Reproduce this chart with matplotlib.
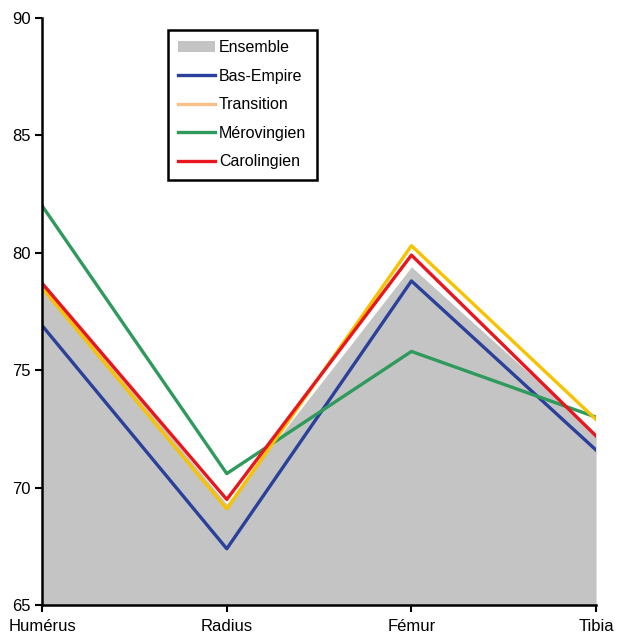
import matplotlib
matplotlib.use("Agg")
import matplotlib.pyplot as plt
from matplotlib.lines import Line2D
from matplotlib.patches import Patch

plt.rcParams['font.family'] = ['Liberation Sans', 'DejaVu Sans']

bones = ["Humérus", "Radius", "Fémur", "Tibia"]
ensemble = [78.8, 69.3, 79.4, 72.3]
bas_empire = [76.9, 67.4, 78.8, 71.6]
transition = [78.5, 69.1, 80.3, 72.9]
merovingien = [82.0, 70.6, 75.8, 73.0]
carolingien = [78.7, 69.5, 79.9, 72.2]
yticks = [65, 70, 75, 80, 85, 90]

fig = plt.figure(figsize=(6.19, 6.37), dpi=100)
ax = fig.add_axes([0.068, 0.050, 0.895, 0.922])

x = list(range(len(bones)))
ax.fill_between(x, 65, ensemble, color="#c4c4c4", lw=0, zorder=1)
lw = 2.4
ax.plot(x, bas_empire, color="#2b409b", lw=lw, zorder=3)
ax.plot(x, transition, color="#f7c200", lw=lw, zorder=4)
ax.plot(x, merovingien, color="#2e9a5c", lw=lw, zorder=3)
ax.plot(x, carolingien, color="#e8161e", lw=lw, zorder=5)

ax.set_xlim(0, 3)
ax.set_ylim(65, 90)
ax.set_yticks(yticks)
ax.set_xticks(x)
ax.set_xticklabels(bones)
ax.tick_params(axis='both', labelsize=12, direction='out', length=5, width=1.5, color='black')
ax.tick_params(axis='x', pad=5)
ax.tick_params(axis='y', pad=3)
for s in ['top', 'right']:
    ax.spines[s].set_visible(False)
for s in ['left', 'bottom']:
    ax.spines[s].set_linewidth(1.8)
    ax.spines[s].set_zorder(6)

handles = [
    Patch(facecolor="#c4c4c4", edgecolor="none", label="Ensemble"),
    Line2D([], [], color="#2b409b", lw=2.4, label="Bas-Empire"),
    Line2D([], [], color="#f9c08a", lw=2.4, label="Transition"),
    Line2D([], [], color="#2e9a5c", lw=2.4, label="Mérovingien"),
    Line2D([], [], color="#e8161e", lw=2.4, label="Carolingien"),
]
leg = ax.legend(handles=handles, loc='upper left', bbox_to_anchor=(0.227, 0.98),
                fontsize=11.5, frameon=True, fancybox=False, edgecolor='black',
                framealpha=1, handlelength=2.3, labelspacing=0.85, borderpad=0.65,
                handletextpad=0.25, borderaxespad=0)
leg.get_frame().set_linewidth(1.8)

fig.savefig("out.png", dpi=100)
